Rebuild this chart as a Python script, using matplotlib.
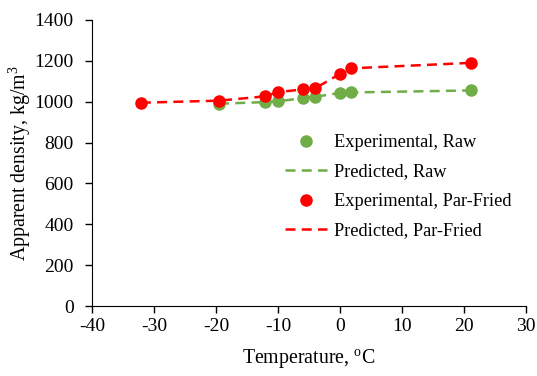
import matplotlib.pyplot as plt

plt.rcParams['font.family'] = ['Liberation Serif', 'DejaVu Serif']
plt.rcParams['axes.unicode_minus'] = False

# temperatures (degC)
temp_raw = [-19.5, -12.1, -10.0, -6.0, -4.0, 0.0, 1.7, 21.1]
temp_pf = [-32.1, -19.5, -12.1, -10.0, -6.0, -4.0, 0.0, 1.7, 21.1]

# apparent density, kg/m3
exp_raw = [990, 998, 1002, 1017, 1024, 1043, 1045, 1055]
pred_raw = [990, 998, 1002, 1017, 1024, 1043, 1045, 1055]
exp_pf = [995, 1005, 1026, 1047, 1060, 1066, 1136, 1163, 1190]
pred_pf = [995, 1005, 1026, 1047, 1060, 1066, 1136, 1163, 1190]

green = '#70AD47'
red = '#FF0000'

fig = plt.figure(figsize=(5.37, 3.76), dpi=100)
ax = fig.add_axes([0.171, 0.186, 0.809, 0.761])

ax.plot(temp_raw, exp_raw, 'o', color=green, markersize=8, label='Experimental, Raw', zorder=3)
ax.plot(temp_raw, pred_raw, '--', color=green, lw=1.8, dashes=(4, 2.5), label='Predicted, Raw', zorder=2)
ax.plot(temp_pf, exp_pf, 'o', color=red, markersize=8, label='Experimental, Par-Fried', zorder=3)
ax.plot(temp_pf, pred_pf, '--', color=red, lw=1.8, dashes=(4, 2.5), label='Predicted, Par-Fried', zorder=2)

ax.set_xlim(-40, 30)
ax.set_ylim(0, 1400)
ax.set_xticks(range(-40, 31, 10))
ax.set_yticks(range(0, 1401, 200))
ax.tick_params(labelsize=14, direction='out', length=5, width=1)
ax.tick_params(axis='y', pad=8)
ax.spines['top'].set_visible(False)
ax.spines['right'].set_visible(False)
ax.set_xlabel('Temperature, $^{\\mathregular{o}}$C', fontsize=14.3, labelpad=9)
ax.set_ylabel('Apparent density, kg/m$^{\\mathregular{3}}$', fontsize=14.3, labelpad=1)

ax.legend(loc='upper left', bbox_to_anchor=(285 / 537, 1 - 134 / 376), bbox_transform=fig.transFigure,
          frameon=False, fontsize=13.2, borderpad=0, borderaxespad=0,
          handlelength=2.3, labelspacing=0.68, handletextpad=0.4, markerscale=1)

fig.savefig('out.png', dpi=100)
